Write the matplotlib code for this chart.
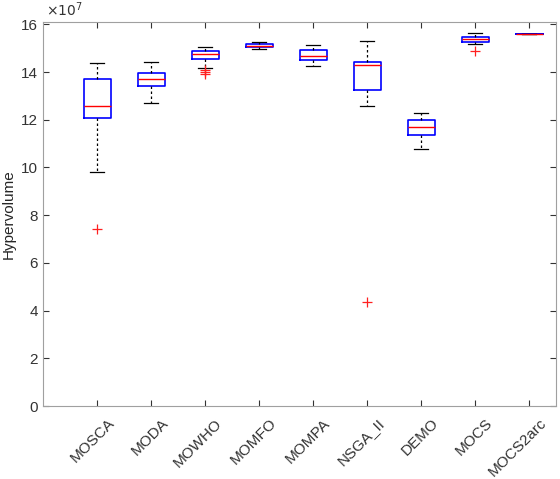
import matplotlib.pyplot as plt
import matplotlib.transforms as mtransforms

plt.rcParams['font.family'] = ['Liberation Sans', 'DejaVu Sans']

# algorithm names and box statistics (units of 1e7)
algorithms = ["MOSCA", "MODA", "MOWHO", "MOMFO", "MOMPA", "NSGA_II", "DEMO", "MOCS", "MOCS2arc"]
whisker_low = [9.81, 12.72, 14.17, 14.96, 14.27, 12.57, 10.78, 15.17, 15.58]
q1 = [12.08, 13.43, 14.56, 15.05, 14.49, 13.26, 11.38, 15.27, 15.58]
median = [12.57, 13.71, 14.75, 15.11, 14.68, 14.28, 11.69, 15.40, 15.58]
q3 = [13.72, 13.97, 14.88, 15.17, 14.93, 14.42, 11.98, 15.48, 15.58]
whisker_high = [14.38, 14.42, 15.07, 15.26, 15.15, 15.32, 12.27, 15.63, 15.58]
outliers = [[7.42], [], [14.09, 14.00, 13.92], [], [], [4.36], [], [14.88], []]

stats = []
for i, name in enumerate(algorithms):
    stats.append({
        "label": name,
        "whislo": whisker_low[i],
        "q1": q1[i],
        "med": median[i],
        "q3": q3[i],
        "whishi": whisker_high[i],
        "fliers": outliers[i],
    })

fig = plt.figure(figsize=(5.6, 4.79), dpi=100)
ax = fig.add_axes([0.0768, 0.1524, 0.9162, 0.8017])

positions = list(range(1, len(algorithms) + 1))
ax.bxp(stats, positions=positions, widths=0.5,
       boxprops=dict(color="#0000ff", linewidth=1.2),
       medianprops=dict(color="#ff0000", linewidth=1.0),
       whiskerprops=dict(color="black", linewidth=0.9, linestyle=(0, (2, 2))),
       capprops=dict(color="black", linewidth=0.9),
       flierprops=dict(marker="+", markeredgecolor="#ff2020", color="#ff2020",
                       markersize=7, markeredgewidth=0.9, linestyle="none"),
       capwidths=0.27)

ax.set_xlim(0, 9.5)
ax.set_ylim(0, 16.1)
ax.set_yticks(range(0, 17, 2))
ax.set_xticks(positions)
ax.set_xticklabels([])
ax.tick_params(direction="in", top=True, right=True, labelsize=11,
               colors="#333333", length=4)

# rotated category labels, anchored a little right of each tick like MATLAB
trans = ax.get_xaxis_transform() + mtransforms.ScaledTranslation(0.1, -0.1, fig.dpi_scale_trans)
for pos, name in zip(positions, algorithms):
    ax.text(pos, 0, name, transform=trans, rotation=45, ha="right", va="top",
            rotation_mode="anchor", fontsize=11, color="#333333")

for side in ax.spines.values():
    side.set_color("#a0a0a0")
ax.set_ylabel("Hypervolume", fontsize=11, color="#262626")
ax.text(0.005, 1.008, r"$\times10^{7}$", transform=ax.transAxes, fontsize=10,
        color="#333333", ha="left", va="bottom")

fig.savefig("out.png", dpi=100)
